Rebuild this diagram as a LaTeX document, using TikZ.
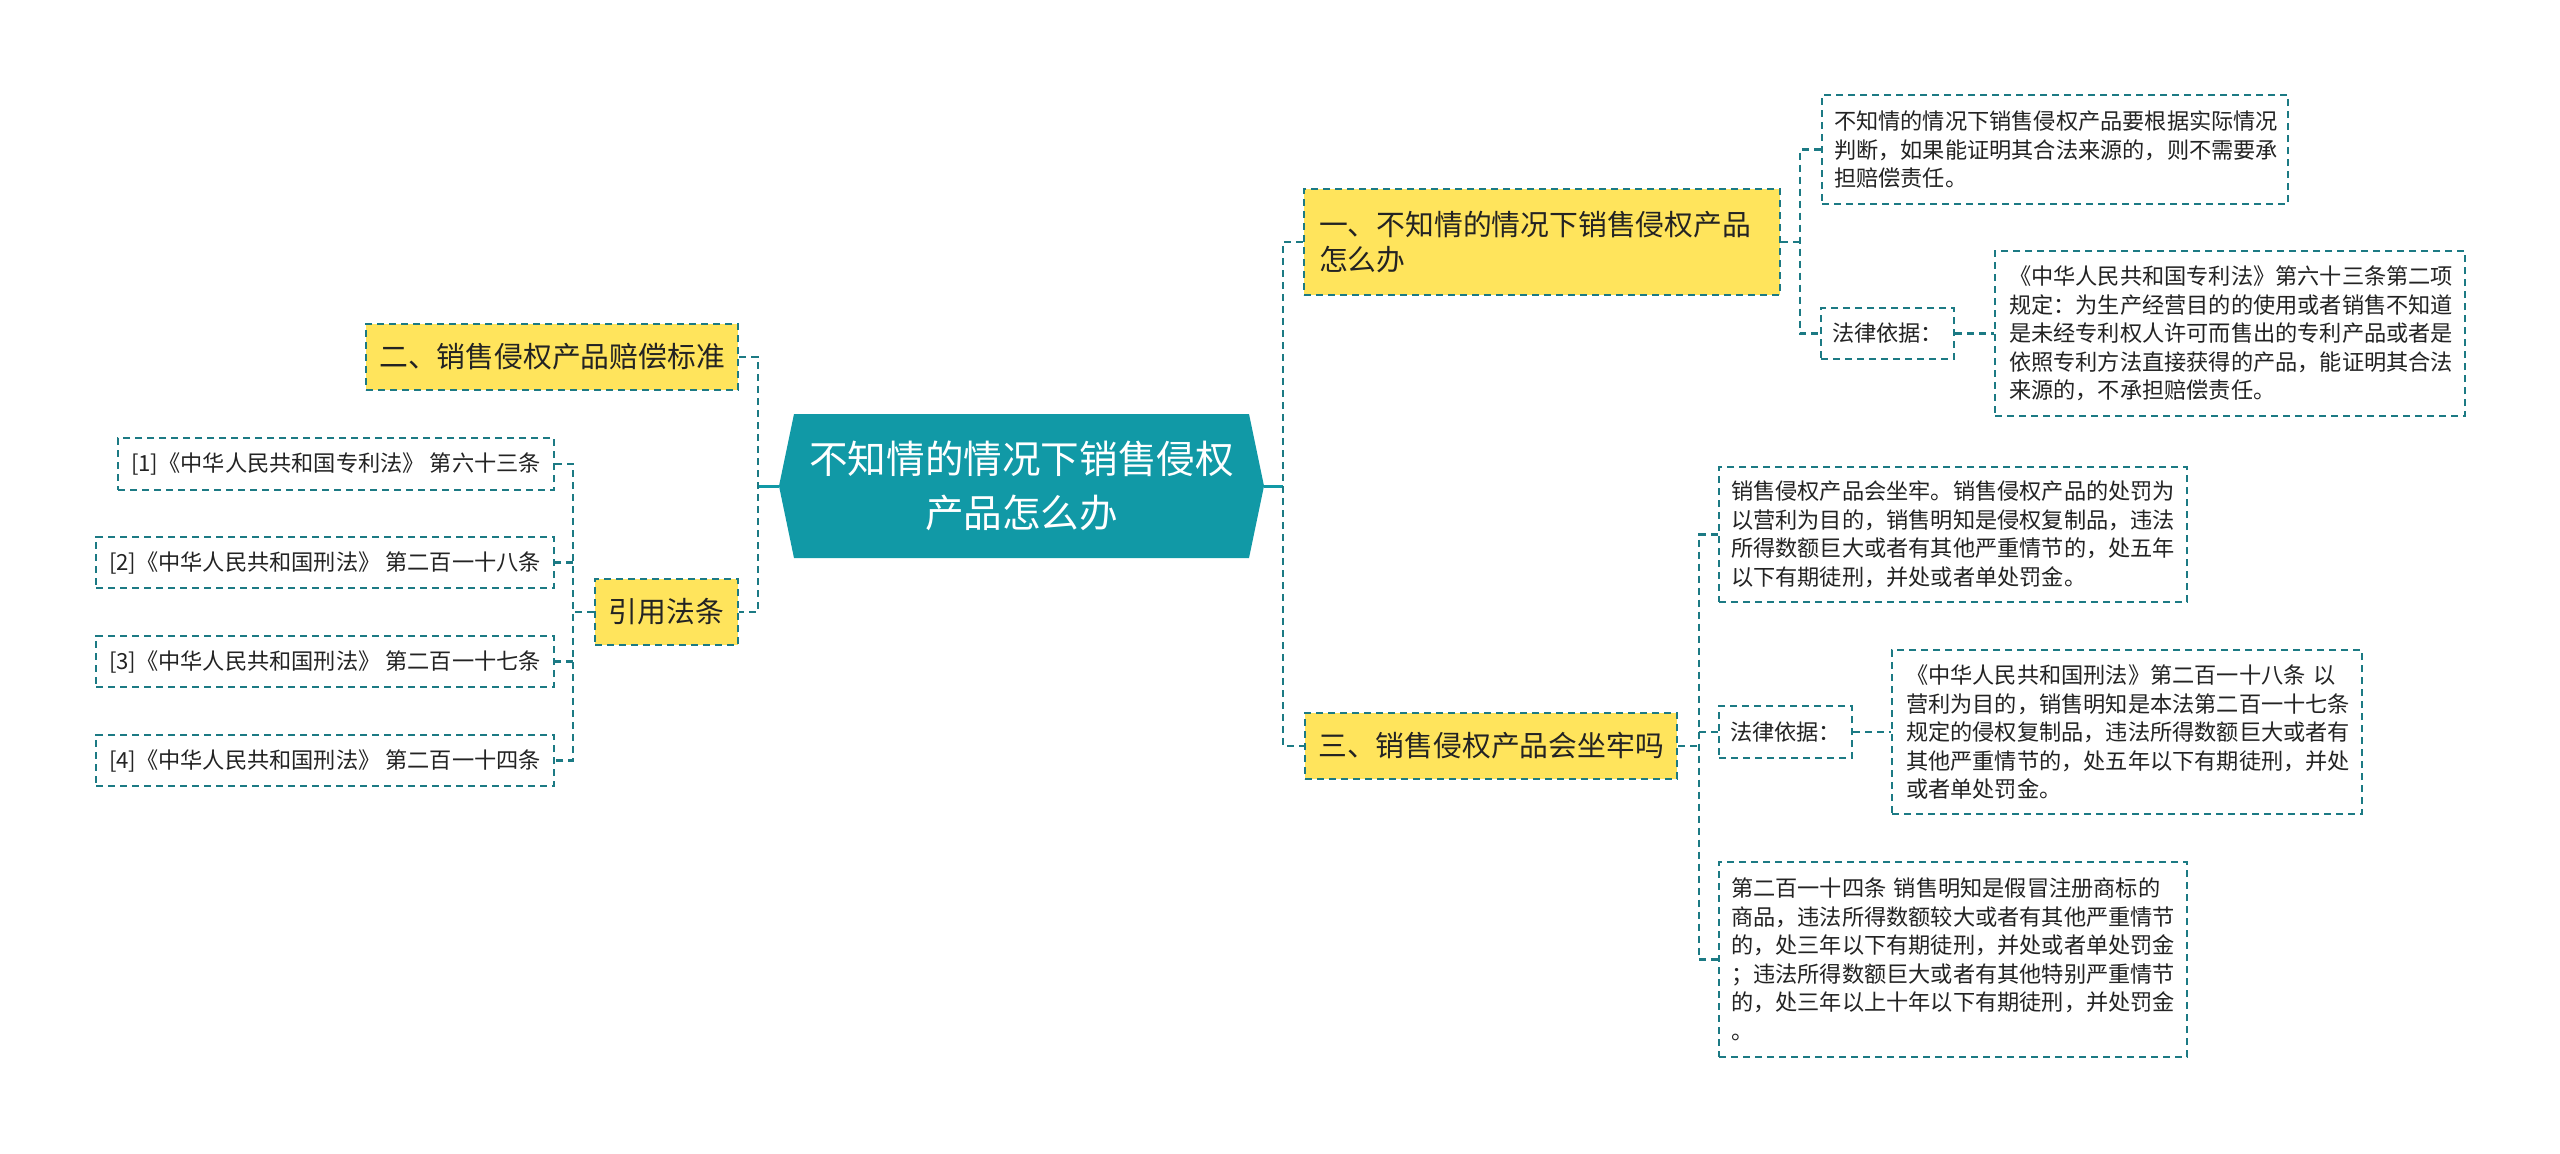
\documentclass[tikz,border=0pt]{standalone}
\usepackage{fontspec}
\newfontfamily\cjk{Noto Sans CJK SC}
\definecolor{tealfill}{RGB}{17,153,166}
\definecolor{dteal}{RGB}{28,122,132}
\definecolor{yelfill}{RGB}{255,228,92}
\definecolor{txtc}{RGB}{35,35,35}
\tikzset{
  box/.style={draw=dteal, line width=1.1pt, dash pattern=on 3.6pt off 2.4pt, inner sep=0pt, text=txtc},
  ybox/.style={box, fill=yelfill, font=\cjk\fontsize{14.4}{17.5}\selectfont},
  leaf/.style={box, fill=white, inner xsep=6pt, font=\cjk\fontsize{11.1}{14.25}\selectfont},
  conn/.style={draw=dteal, line width=1.1pt, dash pattern=on 3.6pt off 2.4pt},
  sconn/.style={draw=tealfill, line width=1.5pt},
}
\begin{document}
\begin{tikzpicture}[x=0.5pt,y=-0.5pt]
\fill[white] (0,0) rectangle (2560,1153);

% central node
\node[minimum width=242.5pt, minimum height=72pt, inner sep=0pt, align=center, text=white,
  font=\cjk\fontsize{19.3}{27}\selectfont,
  path picture={\fill[tealfill] (path picture bounding box.west)
    -- ([xshift=7.5pt]path picture bounding box.north west)
    -- ([xshift=-7.5pt]path picture bounding box.north east)
    -- (path picture bounding box.east)
    -- ([xshift=-7.5pt]path picture bounding box.south east)
    -- ([xshift=7.5pt]path picture bounding box.south west) -- cycle;}]
  (c) at (1021.5,486) {不知情的情况下销售侵权\\产品怎么办};

% level 1
\node[ybox, minimum width=238pt, minimum height=53pt, inner xsep=7.5pt, text width=223pt, align=left]
  (y1) at (1542,242) {一、不知情的情况下销售侵权产品\\怎么办};
\node[ybox, minimum width=186pt, minimum height=33pt] (y2) at (552,357) {二、销售侵权产品赔偿标准};
\node[ybox, minimum width=186pt, minimum height=33pt] (y3) at (1491,746) {三、销售侵权产品会坐牢吗};
\node[ybox, minimum width=71.5pt, minimum height=33pt] (y4) at (666.5,612) {引用法条};

% children of y1
\node[leaf, minimum height=54.5pt, text width=221pt, align=left] (r1a) at (2055,149.5)
  {不知情的情况下销售侵权产品要根据实际情况\\判断，如果能证明其合法来源的，则不需要承\\担赔偿责任。};
\node[leaf, minimum width=66.5pt, minimum height=25.5pt, inner xsep=0pt] (r1law) at (1887.5,333.5) {法律依据：};
\node[leaf, minimum height=82.5pt, inner xsep=7pt, text width=221pt, align=left] (r1b) at (2230,333.5)
  {《中华人民共和国专利法》第六十三条第二项\\规定：为生产经营目的的使用或者销售不知道\\是未经专利权人许可而售出的专利产品或者是\\依照专利方法直接获得的产品，能证明其合法\\来源的，不承担赔偿责任。};

% children of y3
\node[leaf, minimum height=67.5pt, text width=222pt, align=left] (r3a) at (1953,534.5)
  {销售侵权产品会坐牢。销售侵权产品的处罚为\\以营利为目的，销售明知是侵权复制品，违法\\所得数额巨大或者有其他严重情节的，处五年\\以下有期徒刑，并处或者单处罚金。};
\node[leaf, minimum width=66.5pt, minimum height=26pt, inner xsep=0pt] (r3law) at (1785.5,732) {法律依据：};
\node[leaf, minimum height=82pt, inner xsep=7pt, text width=221pt, align=left] (r3b) at (2127,732)
  {《中华人民共和国刑法》第二百一十八条 以\\营利为目的，销售明知是本法第二百一十七条\\规定的侵权复制品，违法所得数额巨大或者有\\其他严重情节的，处五年以下有期徒刑，并处\\或者单处罚金。};
\node[leaf, minimum height=97.5pt, text width=222pt, align=left] (r3c) at (1953,959.5)
  {第二百一十四条 销售明知是假冒注册商标的\\商品，违法所得数额较大或者有其他严重情节\\的，处三年以下有期徒刑，并处或者单处罚金\\；违法所得数额巨大或者有其他特别严重情节\\的，处三年以上十年以下有期徒刑，并处罚金\\。};

% children of y4
\node[leaf, minimum width=218pt, minimum height=26pt, inner xsep=0pt] (L1) at (336,464) {[1]《中华人民共和国专利法》 第六十三条};
\node[leaf, minimum width=229pt, minimum height=25.5pt, inner xsep=0pt] (L2) at (325,562.5) {[2]《中华人民共和国刑法》 第二百一十八条};
\node[leaf, minimum width=229pt, minimum height=25.5pt, inner xsep=0pt] (L3) at (325,661.5) {[3]《中华人民共和国刑法》 第二百一十七条};
\node[leaf, minimum width=229pt, minimum height=25.5pt, inner xsep=0pt] (L4) at (325,760.5) {[4]《中华人民共和国刑法》 第二百一十四条};

% branch points
\coordinate (bR) at (1283,486);
\coordinate (bL) at (758,486);
\coordinate (b1) at (1800,242);
\coordinate (b3) at (1699,746);
\coordinate (b4) at (573,612);

% connectors
\draw[sconn] (c.east) -- (bR);
\draw[sconn] (c.west) -- (bL);
\draw[conn] (y1.west) -| (bR) |- (y3.west);
\draw[conn] (y2.east) -| (bL) |- (y4.east);

\draw[conn] (y1.east) -- (b1);
\draw[conn] (r1a.west) -| (b1) |- (r1law.west);
\draw[conn] (r1law.east) -- (r1b.west);

\draw[conn] (y3.east) -- (b3);
\draw[conn] (r3a.west) -| (b3) |- (r3c.west);
\draw[conn] (b3 |- r3law.west) -- (r3law.west);
\draw[conn] (r3law.east) -- (r3b.west);

\draw[conn] (y4.west) -- (b4);
\draw[conn] (L1.east) -| (b4) |- (L4.east);
\draw[conn] (b4 |- L2.east) -- (L2.east);
\draw[conn] (b4 |- L3.east) -- (L3.east);
\end{tikzpicture}
\end{document}
